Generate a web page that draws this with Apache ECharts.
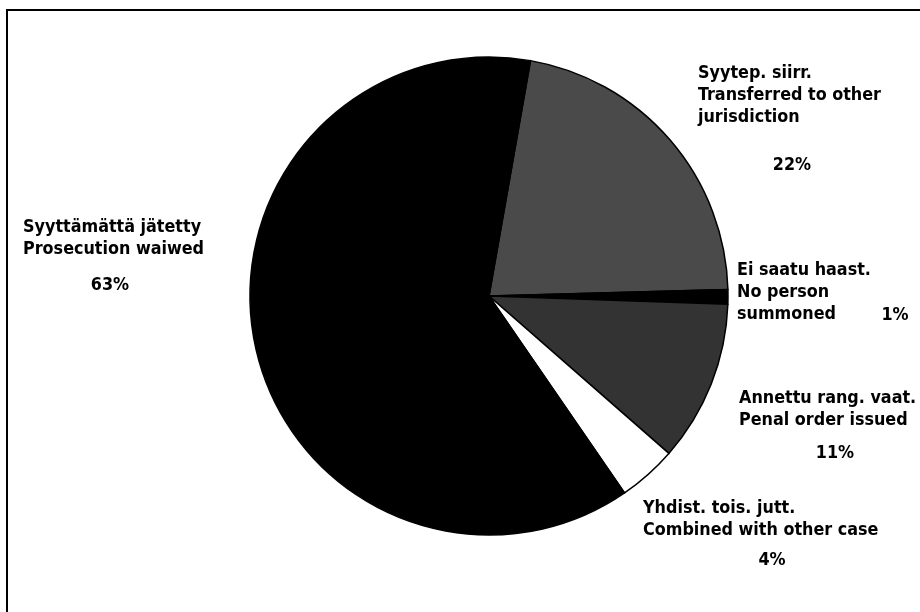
<!DOCTYPE html>
<html>
<head>
<meta charset="utf-8">
<script src="https://cdn.jsdelivr.net/npm/echarts@6/dist/echarts.min.js"></script>
<style>
html,body{margin:0;padding:0;background:#fff;}
#chart{width:920px;height:612px;}
</style>
</head>
<body>
<div id="chart"></div>
<script>
// Data (clockwise from top)
const finnishNames = ['Syytep. siirr.', 'Ei saatu haast.', 'Annettu rang. vaat.', 'Yhdist. tois. jutt.', 'Syyttämättä jätetty'];
const englishNames = ['Transferred to other\njurisdiction', 'No person\nsummoned', 'Penal order issued', 'Combined with other case', 'Prosecution waiwed'];
const percentValues = [22, 1, 11, 4, 63];
const sliceColors = ['#4a4a4a', '#000000', '#333333', '#ffffff', '#000000'];

// Label layout (pixels)
const nameLabelPos = [[698, 62], [737, 259], [739, 387], [643, 497], [23, 216]];
const pctLabelPos = [[792, 165], [895, 315], [835, 453], [772, 560], [110, 285]];

const FONT = "'Liberation Sans Narrow', 'DejaVu Sans Condensed', 'Liberation Sans', sans-serif";

const chart = echarts.init(document.getElementById('chart'), null, {renderer: 'canvas'});

const sliceData = percentValues.map((v, i) => ({
  value: v,
  name: finnishNames[i] + '\n' + englishNames[i],
  itemStyle: {color: sliceColors[i]}
}));

chart.setOption({
  animation: false,
  backgroundColor: '#fff',
  graphic: [{
    type: 'rect',
    shape: {x: 7, y: 10, width: 940, height: 640},
    style: {fill: 'none', stroke: '#000', lineWidth: 2},
    silent: true
  }],
  series: [
    {
      type: 'pie',
      center: [489, 296],
      radius: 239,
      startAngle: 80,
      clockwise: true,
      avoidLabelOverlap: false,
      itemStyle: {borderColor: '#000', borderWidth: 1.5},
      label: {
        show: true,
        position: 'outside',
        formatter: p => p.name,
        fontFamily: FONT,
        fontWeight: 'bold',
        fontSize: 17.8,
        lineHeight: 22,
        color: '#000'
      },
      labelLine: {show: false},
      labelLayout: p => ({
        x: nameLabelPos[p.dataIndex][0],
        y: nameLabelPos[p.dataIndex][1],
        align: 'left',
        verticalAlign: 'top'
      }),
      emphasis: {disabled: true},
      data: sliceData
    },
    {
      type: 'pie',
      center: [489, 296],
      radius: 239,
      startAngle: 80,
      clockwise: true,
      silent: true,
      avoidLabelOverlap: false,
      itemStyle: {color: 'rgba(0,0,0,0)', borderWidth: 0},
      label: {
        show: true,
        position: 'outside',
        formatter: p => p.value + '%',
        fontFamily: FONT,
        fontWeight: 'bold',
        fontSize: 17.8,
        color: '#000'
      },
      labelLine: {show: false},
      labelLayout: p => ({
        x: pctLabelPos[p.dataIndex][0],
        y: pctLabelPos[p.dataIndex][1],
        align: 'center',
        verticalAlign: 'middle'
      }),
      emphasis: {disabled: true},
      data: percentValues.map((v, i) => ({value: v, name: finnishNames[i]}))
    }
  ]
});
</script>
</body>
</html>
